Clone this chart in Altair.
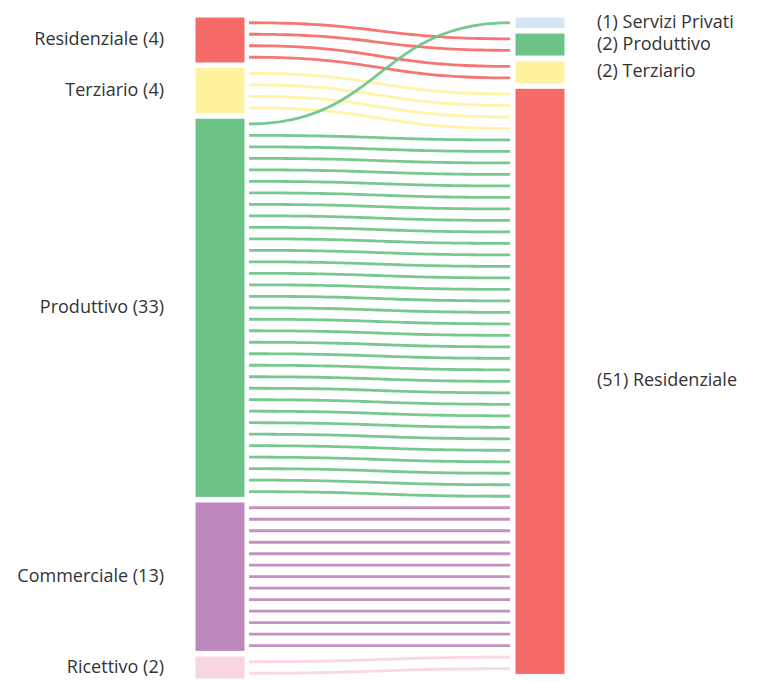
import altair as alt
import pandas as pd
import numpy as np

# ---- data ----
left_nodes = ["Residenziale", "Terziario", "Produttivo", "Commerciale", "Ricettivo"]
left_counts = [4, 4, 33, 13, 2]
left_colors = ["#F46B67", "#FFF3A0", "#6CC488", "#BD89BC", "#F8D5E3"]

right_nodes = ["Servizi Privati", "Produttivo", "Terziario", "Residenziale"]
right_counts = [1, 2, 2, 51]
right_colors = ["#D6E5F5", "#6CC488", "#FFF3A0", "#F46B67"]

flow_source = ["Residenziale", "Residenziale", "Terziario", "Produttivo", "Produttivo", "Commerciale", "Ricettivo"]
flow_target = ["Produttivo", "Terziario", "Residenziale", "Servizi Privati", "Residenziale", "Residenziale", "Residenziale"]
flow_count = [2, 2, 4, 1, 32, 13, 2]

# ---- layout constants ----
GAP = 0.4          # gap between nodes, in units
BAR_W = 50         # node width (px in x domain)
PLOT_W = 370
PLOT_H = 662
LINK_PAD_L = 4
LINK_PAD_R = 5

def starts(counts):
    s, out = 0.0, []
    for c in counts:
        out.append(s)
        s += c + GAP
    return out

left_start = starts(left_counts)
right_start = starts(right_counts)
total = max(left_start[-1] + left_counts[-1], right_start[-1] + right_counts[-1])

li = {n: i for i, n in enumerate(left_nodes)}
ri = {n: i for i, n in enumerate(right_nodes)}
flows = list(zip(flow_source, flow_target, flow_count))

# slot assignment on the left (ordered by target) and on the right (ordered by source)
left_slot = {}
for s in left_nodes:
    k = 0
    for f in sorted([f for f in flows if f[0] == s], key=lambda f: ri[f[1]]):
        left_slot[f] = [left_start[li[s]] + k + j + 0.5 for j in range(f[2])]
        k += f[2]
right_slot = {}
for t in right_nodes:
    k = 0
    for f in sorted([f for f in flows if f[1] == t], key=lambda f: li[f[0]]):
        right_slot[f] = [right_start[ri[t]] + k + j + 0.5 for j in range(f[2])]
        k += f[2]

x0 = BAR_W + LINK_PAD_L
x1 = PLOT_W - BAR_W - LINK_PAD_R
xm = (x0 + x1) / 2
ts = np.linspace(0, 1, 48)
rows = []
lid = 0
for f in flows:
    color = left_colors[li[f[0]]]
    for ya, yb in zip(left_slot[f], right_slot[f]):
        for o, t in enumerate(ts):
            x = (1 - t) ** 3 * x0 + 3 * (1 - t) ** 2 * t * xm + 3 * (1 - t) * t ** 2 * xm + t ** 3 * x1
            y = ya + (yb - ya) * (3 * t ** 2 - 2 * t ** 3)
            rows.append({"id": lid, "o": o, "x": x, "y": y, "c": color})
        lid += 1
links = pd.DataFrame(rows)

nodes = pd.DataFrame(
    [{"x": 0, "x2": BAR_W, "y": left_start[i], "y2": left_start[i] + c, "c": left_colors[i],
      "label": f"{n} ({c})", "side": "L", "ym": left_start[i] + c / 2}
     for i, (n, c) in enumerate(zip(left_nodes, left_counts))]
    + [{"x": PLOT_W - BAR_W, "x2": PLOT_W, "y": right_start[i], "y2": right_start[i] + c, "c": right_colors[i],
        "label": f"({c}) {n}", "side": "R", "ym": right_start[i] + c / 2}
       for i, (n, c) in enumerate(zip(right_nodes, right_counts))]
)

xs = alt.Scale(domain=[0, PLOT_W])
ys = alt.Scale(domain=[0, total], reverse=True)

bars = alt.Chart(nodes).mark_rect(stroke="white", strokeWidth=1).encode(
    x=alt.X("x:Q", scale=xs, axis=None), x2="x2:Q",
    y=alt.Y("y:Q", scale=ys, axis=None), y2="y2:Q",
    color=alt.Color("c:N", scale=None),
)

lines = alt.Chart(links).mark_line(strokeWidth=2.8, opacity=0.92, interpolate="linear").encode(
    x=alt.X("x:Q", scale=xs, axis=None),
    y=alt.Y("y:Q", scale=ys, axis=None),
    detail="id:N",
    order="o:Q",
    color=alt.Color("c:N", scale=None),
)

txt_common = dict(font="Open Sans", fontSize=18, color="#333333", baseline="middle")
left_txt = alt.Chart(nodes).transform_filter(alt.datum.side == "L").mark_text(
    align="right", dx=-31, **txt_common
).encode(x=alt.X("x:Q", scale=xs, axis=None), y=alt.Y("ym:Q", scale=ys, axis=None), text="label:N")
right_txt = alt.Chart(nodes).transform_filter(alt.datum.side == "R").mark_text(
    align="left", dx=32, **txt_common
).encode(x=alt.X("x2:Q", scale=xs, axis=None), y=alt.Y("ym:Q", scale=ys, axis=None), text="label:N")

chart = alt.layer(lines, bars, left_txt, right_txt).properties(
    width=PLOT_W, height=PLOT_H,
    autosize=alt.AutoSizeParams(type="none"),
    padding={"left": 187, "top": 9, "right": 186, "bottom": 0},
).configure_view(stroke=None)

chart.save("out.html", embed_options={"renderer": "svg", "actions": False})
